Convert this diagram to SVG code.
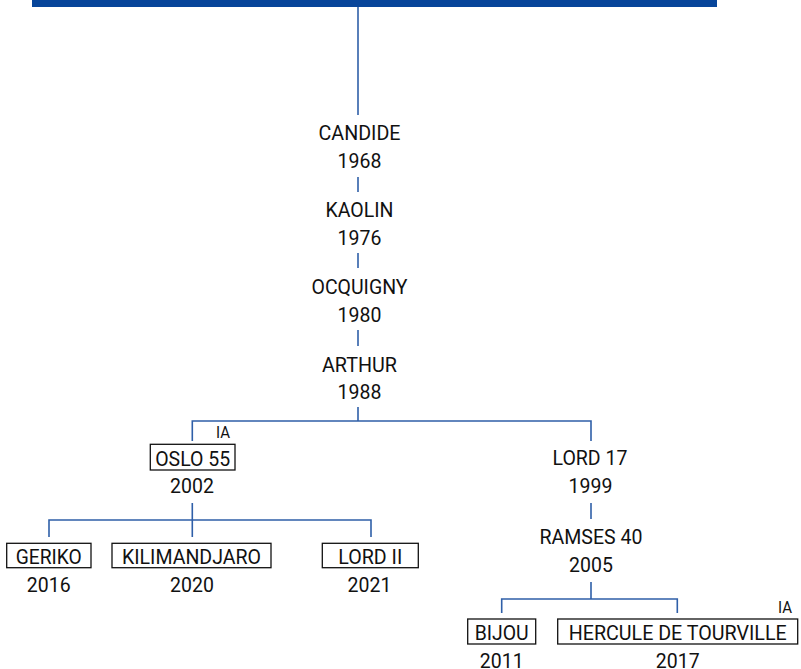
<svg xmlns="http://www.w3.org/2000/svg" width="801" height="669" viewBox="0 0 801 669">
<style>
text{font-family:Roboto,"Liberation Sans",sans-serif;font-size:21px;fill:#111;text-anchor:middle}
.ia{font-size:16px}
.box{fill:#fff;stroke:#111;stroke-width:1.3}
.c{fill:none;stroke:#2f5fa8;stroke-width:1.6}
</style>
<rect x="32" y="0" width="685" height="7" fill="#07459a"/>
<g id="connectors">
<path class="c" d="M358 7V115"/>
<path class="c" d="M358 177V192"/>
<path class="c" d="M358 253V268"/>
<path class="c" d="M358 330V346"/>
<path class="c" d="M358 407V421M192.3 441V421H591V441"/>
<path class="c" d="M192.3 503V537M49 537V520H371V537"/>
<path class="c" d="M591 503V519"/>
<path class="c" d="M591 582V599M501.7 613V599H677.3V613"/>
</g>
<g id="candide"><text x="359.5" y="140" textLength="82" lengthAdjust="spacingAndGlyphs">CANDIDE</text><text x="359.5" y="168" textLength="43.8" lengthAdjust="spacingAndGlyphs">1968</text></g>
<g id="kaolin"><text x="359.5" y="217" textLength="68" lengthAdjust="spacingAndGlyphs">KAOLIN</text><text x="359.5" y="245" textLength="43.8" lengthAdjust="spacingAndGlyphs">1976</text></g>
<g id="ocquigny"><text x="359.5" y="294" textLength="96" lengthAdjust="spacingAndGlyphs">OCQUIGNY</text><text x="359.5" y="322" textLength="43.8" lengthAdjust="spacingAndGlyphs">1980</text></g>
<g id="arthur"><text x="359.5" y="372" textLength="75" lengthAdjust="spacingAndGlyphs">ARTHUR</text><text x="359.5" y="399" textLength="43.8" lengthAdjust="spacingAndGlyphs">1988</text></g>
<g id="oslo55"><text class="ia" x="223" y="438" textLength="14" lengthAdjust="spacingAndGlyphs">IA</text><rect class="box" x="150.3" y="444.3" width="84.7" height="25.7"/><text x="192.7" y="465.7" textLength="75" lengthAdjust="spacingAndGlyphs">OSLO 55</text><text x="192" y="493.3" textLength="43.8" lengthAdjust="spacingAndGlyphs">2002</text></g>
<g id="geriko"><rect class="box" x="6.7" y="543.3" width="84.3" height="24.4"/><text x="48.8" y="563.5" textLength="66" lengthAdjust="spacingAndGlyphs">GERIKO</text><text x="48.7" y="591.7" textLength="43.8" lengthAdjust="spacingAndGlyphs">2016</text></g>
<g id="kilimandjaro"><rect class="box" x="112" y="543.3" width="159" height="24.4"/><text x="191.5" y="563.5" textLength="139" lengthAdjust="spacingAndGlyphs">KILIMANDJARO</text><text x="192" y="591.7" textLength="43.8" lengthAdjust="spacingAndGlyphs">2020</text></g>
<g id="lordii"><rect class="box" x="322.3" y="543.3" width="96" height="24.4"/><text x="370.3" y="563.5" textLength="64" lengthAdjust="spacingAndGlyphs">LORD II</text><text x="369.5" y="591.7" textLength="43.8" lengthAdjust="spacingAndGlyphs">2021</text></g>
<g id="lord17"><text x="590" y="465" textLength="75" lengthAdjust="spacingAndGlyphs">LORD 17</text><text x="590.5" y="492.7" textLength="43.8" lengthAdjust="spacingAndGlyphs">1999</text></g>
<g id="ramses40"><text x="591" y="544.3" textLength="103" lengthAdjust="spacingAndGlyphs">RAMSES 40</text><text x="591" y="571.7" textLength="43.8" lengthAdjust="spacingAndGlyphs">2005</text></g>
<g id="bijou"><rect class="box" x="467.7" y="619" width="68" height="25"/><text x="501.7" y="640" textLength="54" lengthAdjust="spacingAndGlyphs">BIJOU</text><text x="501.7" y="668" textLength="43.8" lengthAdjust="spacingAndGlyphs">2011</text></g>
<g id="hercule"><text class="ia" x="785" y="612.7" textLength="14" lengthAdjust="spacingAndGlyphs">IA</text><rect class="box" x="557.7" y="619" width="240" height="25"/><text x="677.7" y="640" textLength="218" lengthAdjust="spacingAndGlyphs">HERCULE DE TOURVILLE</text><text x="677.7" y="668" textLength="43.8" lengthAdjust="spacingAndGlyphs">2017</text></g>
</svg>
